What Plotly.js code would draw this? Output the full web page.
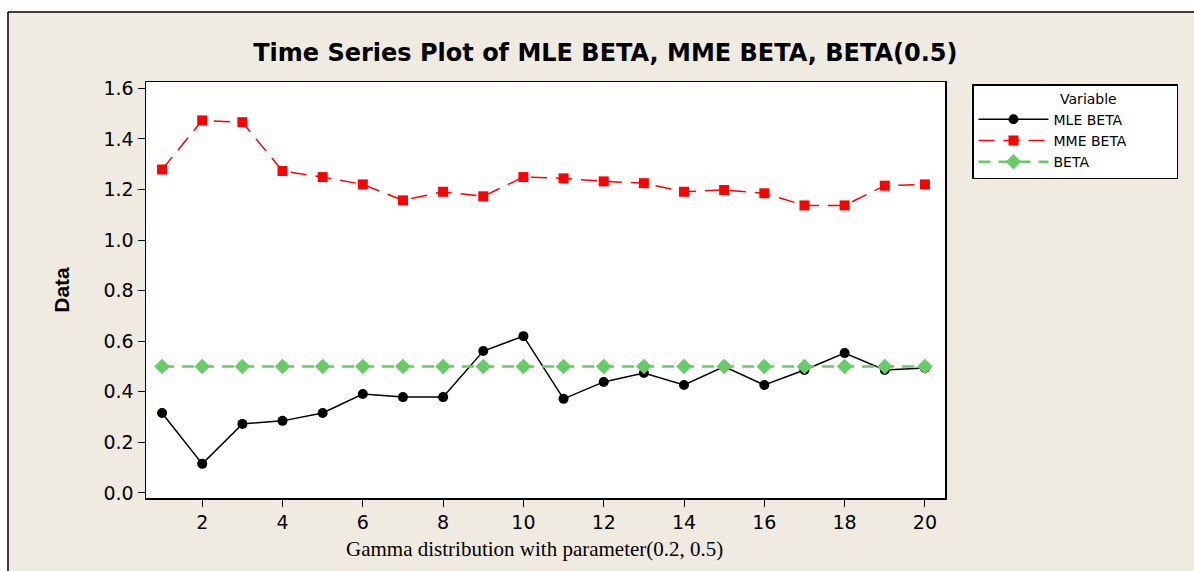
<!DOCTYPE html>
<html>
<head>
<meta charset="utf-8">
<script src="https://cdn.plot.ly/plotly-3.0.1.min.js"></script>
<style>html,body{margin:0;padding:0;background:#fff;}#chart{width:1194px;height:571px;}</style>
</head>
<body>
<div id="chart"></div>
<script>
const index = [1,2,3,4,5,6,7,8,9,10,11,12,13,14,15,16,17,18,19,20];
const mleBeta = [0.316,0.115,0.273,0.285,0.316,0.391,0.379,0.379,0.561,0.620,0.372,0.439,0.474,0.427,0.500,0.427,0.486,0.553,0.486,0.494];
const mmeBeta = [1.279,1.473,1.466,1.273,1.249,1.220,1.157,1.191,1.173,1.249,1.244,1.232,1.225,1.191,1.198,1.185,1.137,1.137,1.215,1.220];
const betaTrue = [0.5,0.5,0.5,0.5,0.5,0.5,0.5,0.5,0.5,0.5,0.5,0.5,0.5,0.5,0.5,0.5,0.5,0.5,0.5,0.5];
const xTicks = [2,4,6,8,10,12,14,16,18,20];
const yTicks = [0,0.2,0.4,0.6,0.8,1.0,1.2,1.4,1.6];
const seriesNames = ['MLE BETA','MME BETA','BETA'];

const pad = '\u00a0'.repeat(10);
const traces = [
  {x:index, y:mleBeta, name:seriesNames[0]+pad, type:'scatter', mode:'lines+markers',
   line:{color:'#000000', width:1.5}, marker:{symbol:'circle', size:10, color:'#000000'}},
  {x:index, y:mmeBeta, name:seriesNames[1]+pad, type:'scatter', mode:'lines+markers',
   line:{color:'#ff0000', width:1.5, dash:'16px,9px'}, marker:{symbol:'square', size:10, color:'#ff0000'}},
  {x:index, y:betaTrue, name:seriesNames[2]+pad, type:'scatter', mode:'lines+markers',
   line:{color:'#66cc66', width:2.5, dash:'12px,8px'}, marker:{symbol:'diamond', size:12, color:'#66cc66'}}
];

const beige = '#efebe1';
const tickFont = {family:'DejaVu Sans', size:19, color:'#000'};
const layout = {
  width:1194, height:571,
  paper_bgcolor: beige, plot_bgcolor:'#ffffff',
  margin:{l:146, r:249, t:82, b:73, autoexpand:false},
  title:{text:'<b>Time Series Plot of MLE BETA, MME BETA, BETA(0.5)</b>',
    font:{family:'DejaVu Sans', size:24, color:'#000'}, x:0.507, xanchor:'center', y:0.908, yanchor:'middle'},
  xaxis:{range:[0.6,20.5], tickvals:xTicks, ticktext:xTicks.map(String), ticks:'outside', ticklen:7, tickcolor:'#000',
    showline:true, linecolor:'#000', linewidth:1.5, mirror:true, showgrid:false, zeroline:false,
    tickfont:tickFont, automargin:false},
  yaxis:{range:[-0.02,1.625], tickvals:yTicks, ticktext:yTicks.map(v=>v.toFixed(1)), ticks:'outside', ticklen:7, tickcolor:'#000',
    showline:true, linecolor:'#000', linewidth:1.5, mirror:true, showgrid:false, zeroline:false,
    tickfont:tickFont, automargin:false,
    title:{text:'<b>Data</b>', font:{family:'Liberation Sans Narrow, Liberation Sans', size:21, color:'#000'}, standoff:28}},
  annotations:[
    {text:'Gamma distribution with parameter(0.2, 0.5)', xref:'paper', yref:'paper',
     x:(534-146)/799, y:(498-549)/416, xanchor:'center', yanchor:'middle', showarrow:false,
     font:{family:'Liberation Serif', size:21, color:'#000'}}
  ],
  showlegend:true,
  legend:{x:(972-146)/799, xanchor:'left', y:(498-84)/416, yanchor:'top', bgcolor:'#ffffff', bordercolor:'#000', borderwidth:1.5,
    font:{family:'DejaVu Sans', size:14, color:'#000'},
    title:{text:'\u00a0'.repeat(19)+'Variable', side:'top', font:{family:'DejaVu Sans', size:14, color:'#000'}},
    tracegroupgap:0, itemwidth:70},
  shapes:[
    {type:'rect', xref:'paper', yref:'paper', x0:-0.3, x1:1.5, y0:(498-12)/416, y1:1.4, fillcolor:'#ffffff', line:{width:0}},
    {type:'rect', xref:'paper', yref:'paper', x0:-0.3, x1:(8-146)/799, y0:-0.3, y1:1.4, fillcolor:'#ffffff', line:{width:0}},
    {type:'line', xref:'paper', yref:'paper', x0:(8-146)/799, x1:(8-146)/799, y0:-0.3, y1:(498-12)/416, line:{color:'#000', width:1.5}},
    {type:'line', xref:'paper', yref:'paper', x0:(8-146)/799, x1:1.5, y0:(498-12)/416, y1:(498-12)/416, line:{color:'#000', width:1.5}}
  ]
};
Plotly.newPlot('chart', traces, layout, {displayModeBar:false, staticPlot:true});
</script>
</body>
</html>
